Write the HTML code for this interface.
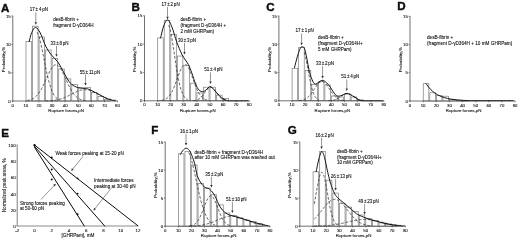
<!DOCTYPE html>
<html><head><meta charset="utf-8"><title>Figure</title>
<style>html,body{margin:0;padding:0;background:#fff}svg{display:block}text{stroke:#111;stroke-width:0.1px}</style>
</head><body>
<svg width="520" height="240" viewBox="0 0 520 240" style="will-change:transform" font-family='"Liberation Sans", sans-serif' stroke-linecap="butt">
<rect width="520" height="240" fill="#fff"/>
<g stroke="none">
<text x="1.00" y="11.50" font-size="11.6" text-anchor="start" font-weight="bold" fill="#0a0a0a" style="stroke-width:0.4px">A</text>
<rect x="25.99" y="41.50" width="5.54" height="59.50" fill="#fff" stroke="#7c7c7c" stroke-width="0.7"/>
<rect x="32.53" y="26.20" width="5.54" height="74.80" fill="#fff" stroke="#7c7c7c" stroke-width="0.7"/>
<rect x="39.08" y="36.97" width="5.54" height="64.03" fill="#fff" stroke="#7c7c7c" stroke-width="0.7"/>
<rect x="45.62" y="50.00" width="5.54" height="51.00" fill="#fff" stroke="#7c7c7c" stroke-width="0.7"/>
<rect x="52.16" y="58.50" width="5.54" height="42.50" fill="#fff" stroke="#7c7c7c" stroke-width="0.7"/>
<rect x="58.71" y="68.98" width="5.54" height="32.02" fill="#fff" stroke="#7c7c7c" stroke-width="0.7"/>
<rect x="65.25" y="78.90" width="5.54" height="22.10" fill="#fff" stroke="#7c7c7c" stroke-width="0.7"/>
<rect x="71.79" y="84.57" width="5.54" height="16.43" fill="#fff" stroke="#7c7c7c" stroke-width="0.7"/>
<rect x="78.34" y="87.97" width="5.54" height="13.03" fill="#fff" stroke="#7c7c7c" stroke-width="0.7"/>
<rect x="84.88" y="87.40" width="5.54" height="13.60" fill="#fff" stroke="#7c7c7c" stroke-width="0.7"/>
<rect x="91.42" y="92.50" width="5.54" height="8.50" fill="#fff" stroke="#7c7c7c" stroke-width="0.7"/>
<rect x="97.97" y="96.47" width="5.54" height="4.53" fill="#fff" stroke="#7c7c7c" stroke-width="0.7"/>
<rect x="104.51" y="99.30" width="5.54" height="1.70" fill="#fff" stroke="#7c7c7c" stroke-width="0.7"/>
<polyline points="37.01,32.17 37.67,33.25 38.32,34.73 38.98,36.58 39.63,38.77 40.28,41.27 40.94,44.02 41.59,46.99 42.25,50.13 42.90,53.39 43.56,56.71 44.21,60.07 44.86,63.40 45.52,66.68 46.17,69.88 46.83,72.95 47.48,75.88 48.14,78.64 48.79,81.22 49.45,83.62 50.10,85.82 50.75,87.83 51.41,89.64 52.06,91.26 52.72,92.71 53.37,93.98 54.03,95.10 54.68,96.07 55.33,96.91 55.99,97.62 56.64,98.23 57.30,98.74 57.95,99.17 58.61,99.53 59.26,99.82 59.92,100.07" fill="none" stroke="#222" stroke-width="0.7" stroke-dasharray="2.8 1.7"/>
<polyline points="27.20,100.51 27.85,100.40 28.51,100.28 29.16,100.13 29.81,99.96 30.47,99.77 31.12,99.53 31.78,99.27 32.43,98.96 33.09,98.62 33.74,98.22 34.39,97.78 35.05,97.27 35.70,96.71 36.36,96.09 37.01,95.40 37.67,94.65 38.32,93.82 38.98,92.93 39.63,91.96 40.28,90.92 40.94,89.81 41.59,88.63 42.25,87.39 42.90,86.09 43.56,84.74 44.21,83.35 44.86,81.92 45.52,80.47 46.17,79.00 46.83,77.54 47.48,76.09 48.14,74.66 48.79,73.28 49.45,71.96 50.10,70.71 50.75,69.54 51.41,68.47 52.06,67.52 52.72,66.69 53.37,66.00 54.03,65.45 54.68,65.05 55.33,64.81 55.99,64.73 56.64,64.81 57.30,65.05 57.95,65.45 58.61,66.00 59.26,66.69 59.92,67.52 60.57,68.47 61.22,69.54 61.88,70.71 62.53,71.96 63.19,73.28 63.84,74.66 64.50,76.09 65.15,77.54 65.80,79.00 66.46,80.47 67.11,81.92 67.77,83.35 68.42,84.74 69.08,86.09 69.73,87.39 70.39,88.63 71.04,89.81 71.69,90.92 72.35,91.96 73.00,92.93 73.66,93.82 74.31,94.65 74.97,95.40 75.62,96.09 76.27,96.71 76.93,97.27 77.58,97.78 78.24,98.22 78.89,98.62 79.55,98.96 80.20,99.27 80.86,99.53 81.51,99.77 82.16,99.96 82.82,100.13 83.47,100.28 84.13,100.40 84.78,100.51 85.44,100.60" fill="none" stroke="#222" stroke-width="0.7" stroke-dasharray="2.8 1.7"/>
<polyline points="45.52,100.87 46.17,100.85 46.83,100.83 47.48,100.80 48.14,100.78 48.79,100.74 49.45,100.70 50.10,100.66 50.75,100.61 51.41,100.56 52.06,100.50 52.72,100.44 53.37,100.36 54.03,100.28 54.68,100.20 55.33,100.10 55.99,99.99 56.64,99.88 57.30,99.75 57.95,99.61 58.61,99.47 59.26,99.31 59.92,99.14 60.57,98.95 61.22,98.76 61.88,98.55 62.53,98.33 63.19,98.09 63.84,97.85 64.50,97.59 65.15,97.32 65.80,97.04 66.46,96.75 67.11,96.44 67.77,96.13 68.42,95.81 69.08,95.48 69.73,95.15 70.39,94.81 71.04,94.47 71.69,94.13 72.35,93.78 73.00,93.44 73.66,93.10 74.31,92.77 74.97,92.45 75.62,92.13 76.27,91.82 76.93,91.53 77.58,91.26 78.24,91.00 78.89,90.76 79.55,90.54 80.20,90.34 80.86,90.17 81.51,90.02 82.16,89.89 82.82,89.79 83.47,89.72 84.13,89.68 84.78,89.67 85.44,89.68 86.09,89.72 86.74,89.79 87.40,89.89 88.05,90.02 88.71,90.17 89.36,90.34 90.02,90.54 90.67,90.76 91.33,91.00 91.98,91.26 92.63,91.53 93.29,91.82 93.94,92.13 94.60,92.45 95.25,92.77 95.91,93.10 96.56,93.44 97.21,93.78 97.87,94.13 98.52,94.47 99.18,94.81 99.83,95.15 100.49,95.48 101.14,95.81 101.80,96.13 102.45,96.44 103.10,96.75 103.76,97.04 104.41,97.32 105.07,97.59 105.72,97.85 106.38,98.09 107.03,98.33 107.68,98.55 108.34,98.76 108.99,98.95 109.65,99.14 110.30,99.31 110.96,99.47 111.61,99.61 112.27,99.75 112.92,99.88 113.57,99.99 114.23,100.10 114.88,100.20 115.54,100.28 116.19,100.36 116.85,100.44 117.50,100.50" fill="none" stroke="#222" stroke-width="0.7" stroke-dasharray="2.8 1.7"/>
<path d="M29.16,41.50 C29.60,39.99 30.71,34.79 31.78,32.43 C32.85,30.07 34.15,27.24 35.57,27.33 C36.99,27.43 38.60,29.88 40.28,33.00 C41.96,36.12 43.82,42.40 45.65,46.03 C47.48,49.67 49.29,52.22 51.28,54.82 C53.26,57.41 55.79,59.26 57.56,61.62 C59.33,63.98 60.61,66.76 61.88,68.98 C63.14,71.20 63.78,72.62 65.15,74.93 C66.52,77.25 68.23,80.84 70.12,82.87 C72.02,84.90 74.01,86.17 76.54,87.12 C79.07,88.06 83.34,88.20 85.30,88.53 C87.27,88.86 86.22,88.22 88.31,89.10 C90.41,89.98 94.71,92.20 97.87,93.80 C101.03,95.41 104.46,97.56 107.29,98.73 C110.13,99.90 113.62,100.48 114.88,100.83" fill="none" stroke="#0a0a0a" stroke-width="0.95" stroke-linejoin="round" stroke-linecap="round"/>
<line x1="12.80" y1="15.70" x2="12.80" y2="101.30" stroke="#333" stroke-width="0.7"/>
<line x1="12.50" y1="101.00" x2="117.80" y2="101.00" stroke="#333" stroke-width="0.7"/>
<line x1="11.30" y1="101.00" x2="12.80" y2="101.00" stroke="#333" stroke-width="0.55"/>
<text x="10.70" y="102.55" font-size="4.3" text-anchor="end" font-weight="normal" fill="#111">0</text>
<line x1="11.30" y1="72.67" x2="12.80" y2="72.67" stroke="#333" stroke-width="0.55"/>
<text x="10.70" y="74.22" font-size="4.3" text-anchor="end" font-weight="normal" fill="#111">5</text>
<line x1="11.30" y1="44.33" x2="12.80" y2="44.33" stroke="#333" stroke-width="0.55"/>
<text x="10.70" y="45.88" font-size="4.3" text-anchor="end" font-weight="normal" fill="#111">10</text>
<line x1="11.30" y1="16.00" x2="12.80" y2="16.00" stroke="#333" stroke-width="0.55"/>
<text x="10.70" y="17.55" font-size="4.3" text-anchor="end" font-weight="normal" fill="#111">15</text>
<line x1="12.80" y1="101.00" x2="12.80" y2="102.30" stroke="#333" stroke-width="0.55"/>
<text x="12.80" y="106.60" font-size="4.3" text-anchor="middle" font-weight="normal" fill="#111">0</text>
<line x1="25.89" y1="101.00" x2="25.89" y2="102.30" stroke="#333" stroke-width="0.55"/>
<text x="25.89" y="106.60" font-size="4.3" text-anchor="middle" font-weight="normal" fill="#111">10</text>
<line x1="38.98" y1="101.00" x2="38.98" y2="102.30" stroke="#333" stroke-width="0.55"/>
<text x="38.98" y="106.60" font-size="4.3" text-anchor="middle" font-weight="normal" fill="#111">20</text>
<line x1="52.06" y1="101.00" x2="52.06" y2="102.30" stroke="#333" stroke-width="0.55"/>
<text x="52.06" y="106.60" font-size="4.3" text-anchor="middle" font-weight="normal" fill="#111">30</text>
<line x1="65.15" y1="101.00" x2="65.15" y2="102.30" stroke="#333" stroke-width="0.55"/>
<text x="65.15" y="106.60" font-size="4.3" text-anchor="middle" font-weight="normal" fill="#111">40</text>
<line x1="78.24" y1="101.00" x2="78.24" y2="102.30" stroke="#333" stroke-width="0.55"/>
<text x="78.24" y="106.60" font-size="4.3" text-anchor="middle" font-weight="normal" fill="#111">50</text>
<line x1="91.33" y1="101.00" x2="91.33" y2="102.30" stroke="#333" stroke-width="0.55"/>
<text x="91.33" y="106.60" font-size="4.3" text-anchor="middle" font-weight="normal" fill="#111">60</text>
<line x1="104.41" y1="101.00" x2="104.41" y2="102.30" stroke="#333" stroke-width="0.55"/>
<text x="104.41" y="106.60" font-size="4.3" text-anchor="middle" font-weight="normal" fill="#111">70</text>
<line x1="117.50" y1="101.00" x2="117.50" y2="102.30" stroke="#333" stroke-width="0.55"/>
<text x="117.50" y="106.60" font-size="4.3" text-anchor="middle" font-weight="normal" fill="#111">80</text>
<text x="66.15" y="112.10" font-size="4.4" text-anchor="middle" font-weight="normal" fill="#111">Rupture forces,pN</text>
<text x="4.50" y="59.50" font-size="4.4" text-anchor="middle" font-weight="normal" fill="#111" transform="rotate(-90 4.50 59.50)">Probability,%</text>
<text x="38.90" y="11.00" font-size="4.55" text-anchor="middle" font-weight="normal" fill="#111" word-spacing="-0.5">17 ± 4 pN</text>
<line x1="35.80" y1="12.30" x2="35.80" y2="22.30" stroke="#2a2a2a" stroke-width="0.5"/>
<polygon points="35.80,24.80 34.60,22.30 37.00,22.30" fill="#2a2a2a"/>
<text x="59.50" y="45.00" font-size="4.55" text-anchor="middle" font-weight="normal" fill="#111" word-spacing="-0.5">33 ± 8 pN</text>
<line x1="56.50" y1="46.00" x2="56.50" y2="54.20" stroke="#2a2a2a" stroke-width="0.5"/>
<polygon points="56.50,56.70 55.30,54.20 57.70,54.20" fill="#2a2a2a"/>
<text x="90.00" y="73.70" font-size="4.55" text-anchor="middle" font-weight="normal" fill="#111" word-spacing="-0.5">55 ± 11 pN</text>
<line x1="85.50" y1="74.50" x2="85.50" y2="83.00" stroke="#2a2a2a" stroke-width="0.5"/>
<polygon points="85.50,85.50 84.30,83.00 86.70,83.00" fill="#2a2a2a"/>
<text x="53.20" y="20.90" font-size="4.55" text-anchor="start" font-weight="normal" fill="#111">desB-fibrin +</text>
<text x="53.20" y="26.60" font-size="4.55" text-anchor="start" font-weight="normal" fill="#111">fragment D-γD364H</text>
<text x="131.40" y="11.00" font-size="11.6" text-anchor="start" font-weight="bold" fill="#0a0a0a" style="stroke-width:0.4px">B</text>
<rect x="157.69" y="37.90" width="5.54" height="62.90" fill="#fff" stroke="#7c7c7c" stroke-width="0.7"/>
<rect x="164.23" y="20.33" width="5.54" height="80.47" fill="#fff" stroke="#7c7c7c" stroke-width="0.7"/>
<rect x="170.78" y="34.50" width="5.54" height="66.30" fill="#fff" stroke="#7c7c7c" stroke-width="0.7"/>
<rect x="177.32" y="56.03" width="5.54" height="44.77" fill="#fff" stroke="#7c7c7c" stroke-width="0.7"/>
<rect x="183.86" y="65.67" width="5.54" height="35.13" fill="#fff" stroke="#7c7c7c" stroke-width="0.7"/>
<rect x="190.41" y="83.23" width="5.54" height="17.57" fill="#fff" stroke="#7c7c7c" stroke-width="0.7"/>
<rect x="196.95" y="92.87" width="5.54" height="7.93" fill="#fff" stroke="#7c7c7c" stroke-width="0.7"/>
<rect x="203.49" y="87.20" width="5.54" height="13.60" fill="#fff" stroke="#7c7c7c" stroke-width="0.7"/>
<rect x="210.04" y="87.20" width="5.54" height="13.60" fill="#fff" stroke="#7c7c7c" stroke-width="0.7"/>
<rect x="216.58" y="95.13" width="5.54" height="5.67" fill="#fff" stroke="#7c7c7c" stroke-width="0.7"/>
<rect x="223.12" y="98.53" width="5.54" height="2.27" fill="#fff" stroke="#7c7c7c" stroke-width="0.7"/>
<polyline points="168.71,25.09 169.37,26.76 170.02,29.03 170.68,31.85 171.33,35.14 171.98,38.83 172.64,42.83 173.29,47.06 173.95,51.41 174.60,55.82 175.26,60.20 175.91,64.47 176.56,68.58 177.22,72.48 177.87,76.13 178.53,79.50 179.18,82.57 179.84,85.34 180.49,87.80 181.14,89.97 181.80,91.86 182.45,93.48 183.11,94.86 183.76,96.02 184.42,96.99 185.07,97.79 185.73,98.45 186.38,98.97 187.03,99.40 187.69,99.73" fill="none" stroke="#222" stroke-width="0.7" stroke-dasharray="2.8 1.7"/>
<polyline points="161.51,100.40 162.17,100.28 162.82,100.14 163.48,99.97 164.13,99.76 164.79,99.51 165.44,99.21 166.09,98.84 166.75,98.42 167.40,97.91 168.06,97.33 168.71,96.66 169.37,95.89 170.02,95.02 170.68,94.04 171.33,92.96 171.98,91.76 172.64,90.45 173.29,89.03 173.95,87.50 174.60,85.89 175.26,84.20 175.91,82.44 176.56,80.63 177.22,78.80 177.87,76.97 178.53,75.17 179.18,73.42 179.84,71.76 180.49,70.21 181.14,68.79 181.80,67.55 182.45,66.49 183.11,65.65 183.76,65.03 184.42,64.66 185.07,64.53 185.73,64.66 186.38,65.03 187.03,65.65 187.69,66.49 188.34,67.55 189.00,68.79 189.65,70.21 190.31,71.76 190.96,73.42 191.62,75.17 192.27,76.97 192.92,78.80 193.58,80.63 194.23,82.44 194.89,84.20 195.54,85.89 196.20,87.50 196.85,89.03 197.50,90.45 198.16,91.76 198.81,92.96 199.47,94.04 200.12,95.02 200.78,95.89 201.43,96.66 202.08,97.33 202.74,97.91 203.39,98.42 204.05,98.84 204.70,99.21 205.36,99.51 206.01,99.76 206.67,99.97 207.32,100.14 207.97,100.28 208.63,100.40" fill="none" stroke="#222" stroke-width="0.7" stroke-dasharray="2.8 1.7"/>
<polyline points="193.32,100.65 193.97,100.59 194.63,100.51 195.28,100.40 195.93,100.27 196.59,100.09 197.24,99.87 197.90,99.60 198.55,99.27 199.21,98.87 199.86,98.40 200.51,97.86 201.17,97.23 201.82,96.53 202.48,95.76 203.13,94.92 203.79,94.04 204.44,93.11 205.10,92.18 205.75,91.25 206.40,90.36 207.06,89.53 207.71,88.80 208.37,88.18 209.02,87.70 209.68,87.37 210.33,87.21 210.98,87.23 211.64,87.42 212.29,87.78 212.95,88.29 213.60,88.94 214.26,89.69 214.91,90.53 215.57,91.43 216.22,92.36 216.87,93.30 217.53,94.22 218.18,95.10 218.84,95.92 219.49,96.68 220.15,97.37 220.80,97.97 221.45,98.50 222.11,98.96 222.76,99.34 223.42,99.66 224.07,99.92 224.73,100.13 225.38,100.30 226.04,100.43 226.69,100.53 227.34,100.60" fill="none" stroke="#222" stroke-width="0.7" stroke-dasharray="2.8 1.7"/>
<path d="M160.60,37.90 C161.14,35.82 162.69,28.46 163.87,25.43 C165.05,22.41 166.31,19.48 167.66,19.77 C169.02,20.05 170.48,23.45 171.98,27.13 C173.49,30.82 174.99,37.24 176.70,41.87 C178.40,46.49 180.25,51.12 182.19,54.90 C184.13,58.68 186.77,61.61 188.34,64.53 C189.91,67.46 190.42,69.26 191.62,72.47 C192.81,75.68 194.34,80.92 195.54,83.80 C196.74,86.68 197.61,88.43 198.81,89.75 C200.01,91.07 201.54,91.69 202.74,91.73 C203.94,91.78 204.72,90.88 206.01,90.03 C207.30,89.18 208.65,86.16 210.46,86.63 C212.27,87.11 215.02,91.01 216.87,92.87 C218.73,94.73 219.97,96.55 221.59,97.80 C223.20,99.04 225.01,99.85 226.56,100.35 C228.11,100.85 227.32,100.72 230.88,100.80 C234.43,100.88 245.06,100.80 247.89,100.80" fill="none" stroke="#0a0a0a" stroke-width="0.95" stroke-linejoin="round" stroke-linecap="round"/>
<line x1="144.50" y1="15.50" x2="144.50" y2="101.10" stroke="#333" stroke-width="0.7"/>
<line x1="144.20" y1="100.80" x2="249.50" y2="100.80" stroke="#333" stroke-width="0.7"/>
<line x1="143.00" y1="100.80" x2="144.50" y2="100.80" stroke="#333" stroke-width="0.55"/>
<text x="142.40" y="102.35" font-size="4.3" text-anchor="end" font-weight="normal" fill="#111">0</text>
<line x1="143.00" y1="72.47" x2="144.50" y2="72.47" stroke="#333" stroke-width="0.55"/>
<text x="142.40" y="74.02" font-size="4.3" text-anchor="end" font-weight="normal" fill="#111">5</text>
<line x1="143.00" y1="44.13" x2="144.50" y2="44.13" stroke="#333" stroke-width="0.55"/>
<text x="142.40" y="45.68" font-size="4.3" text-anchor="end" font-weight="normal" fill="#111">10</text>
<line x1="143.00" y1="15.80" x2="144.50" y2="15.80" stroke="#333" stroke-width="0.55"/>
<text x="142.40" y="17.35" font-size="4.3" text-anchor="end" font-weight="normal" fill="#111">15</text>
<line x1="144.50" y1="100.80" x2="144.50" y2="102.10" stroke="#333" stroke-width="0.55"/>
<text x="144.50" y="106.40" font-size="4.3" text-anchor="middle" font-weight="normal" fill="#111">0</text>
<line x1="157.59" y1="100.80" x2="157.59" y2="102.10" stroke="#333" stroke-width="0.55"/>
<text x="157.59" y="106.40" font-size="4.3" text-anchor="middle" font-weight="normal" fill="#111">10</text>
<line x1="170.68" y1="100.80" x2="170.68" y2="102.10" stroke="#333" stroke-width="0.55"/>
<text x="170.68" y="106.40" font-size="4.3" text-anchor="middle" font-weight="normal" fill="#111">20</text>
<line x1="183.76" y1="100.80" x2="183.76" y2="102.10" stroke="#333" stroke-width="0.55"/>
<text x="183.76" y="106.40" font-size="4.3" text-anchor="middle" font-weight="normal" fill="#111">30</text>
<line x1="196.85" y1="100.80" x2="196.85" y2="102.10" stroke="#333" stroke-width="0.55"/>
<text x="196.85" y="106.40" font-size="4.3" text-anchor="middle" font-weight="normal" fill="#111">40</text>
<line x1="209.94" y1="100.80" x2="209.94" y2="102.10" stroke="#333" stroke-width="0.55"/>
<text x="209.94" y="106.40" font-size="4.3" text-anchor="middle" font-weight="normal" fill="#111">50</text>
<line x1="223.02" y1="100.80" x2="223.02" y2="102.10" stroke="#333" stroke-width="0.55"/>
<text x="223.02" y="106.40" font-size="4.3" text-anchor="middle" font-weight="normal" fill="#111">60</text>
<line x1="236.11" y1="100.80" x2="236.11" y2="102.10" stroke="#333" stroke-width="0.55"/>
<text x="236.11" y="106.40" font-size="4.3" text-anchor="middle" font-weight="normal" fill="#111">70</text>
<line x1="249.20" y1="100.80" x2="249.20" y2="102.10" stroke="#333" stroke-width="0.55"/>
<text x="249.20" y="106.40" font-size="4.3" text-anchor="middle" font-weight="normal" fill="#111">80</text>
<text x="197.85" y="111.90" font-size="4.4" text-anchor="middle" font-weight="normal" fill="#111">Rupture forces,pN</text>
<text x="136.20" y="59.30" font-size="4.4" text-anchor="middle" font-weight="normal" fill="#111" transform="rotate(-90 136.20 59.30)">Probability,%</text>
<text x="170.60" y="6.00" font-size="4.55" text-anchor="middle" font-weight="normal" fill="#111" word-spacing="-0.5">17 ± 2 pN</text>
<line x1="167.50" y1="7.00" x2="167.50" y2="16.70" stroke="#2a2a2a" stroke-width="0.5"/>
<polygon points="167.50,19.20 166.30,16.70 168.70,16.70" fill="#2a2a2a"/>
<text x="187.00" y="41.60" font-size="4.55" text-anchor="middle" font-weight="normal" fill="#111" word-spacing="-0.5">30 ± 3 pN</text>
<line x1="184.50" y1="42.80" x2="184.50" y2="52.10" stroke="#2a2a2a" stroke-width="0.5"/>
<polygon points="184.50,54.60 183.30,52.10 185.70,52.10" fill="#2a2a2a"/>
<text x="213.40" y="71.20" font-size="4.55" text-anchor="middle" font-weight="normal" fill="#111" word-spacing="-0.5">51 ± 4 pN</text>
<line x1="210.50" y1="72.30" x2="210.50" y2="81.50" stroke="#2a2a2a" stroke-width="0.5"/>
<polygon points="210.50,84.00 209.30,81.50 211.70,81.50" fill="#2a2a2a"/>
<text x="180.40" y="21.10" font-size="4.55" text-anchor="start" font-weight="normal" fill="#111">desB-fibrin +</text>
<text x="180.40" y="26.80" font-size="4.55" text-anchor="start" font-weight="normal" fill="#111">(fragment D-γD364H +</text>
<text x="180.40" y="32.50" font-size="4.55" text-anchor="start" font-weight="normal" fill="#111">2 mM GHRPam)</text>
<text x="266.30" y="10.50" font-size="11.6" text-anchor="start" font-weight="bold" fill="#0a0a0a" style="stroke-width:0.4px">C</text>
<rect x="292.11" y="68.29" width="5.56" height="32.51" fill="#fff" stroke="#7c7c7c" stroke-width="0.7"/>
<rect x="298.67" y="47.38" width="5.56" height="53.42" fill="#fff" stroke="#7c7c7c" stroke-width="0.7"/>
<rect x="305.23" y="70.55" width="5.56" height="30.25" fill="#fff" stroke="#7c7c7c" stroke-width="0.7"/>
<rect x="311.78" y="84.41" width="5.56" height="16.39" fill="#fff" stroke="#7c7c7c" stroke-width="0.7"/>
<rect x="318.34" y="81.58" width="5.56" height="19.22" fill="#fff" stroke="#7c7c7c" stroke-width="0.7"/>
<rect x="324.89" y="84.97" width="5.56" height="15.83" fill="#fff" stroke="#7c7c7c" stroke-width="0.7"/>
<rect x="331.45" y="95.99" width="5.56" height="4.81" fill="#fff" stroke="#7c7c7c" stroke-width="0.7"/>
<rect x="338.01" y="97.01" width="5.56" height="3.79" fill="#fff" stroke="#7c7c7c" stroke-width="0.7"/>
<rect x="344.56" y="94.02" width="5.56" height="6.78" fill="#fff" stroke="#7c7c7c" stroke-width="0.7"/>
<rect x="351.12" y="97.01" width="5.56" height="3.79" fill="#fff" stroke="#7c7c7c" stroke-width="0.7"/>
<rect x="357.68" y="99.95" width="5.56" height="0.85" fill="#fff" stroke="#7c7c7c" stroke-width="0.7"/>
<polyline points="304.47,52.44 305.12,54.94 305.78,57.86 306.44,61.11 307.09,64.59 307.75,68.19 308.40,71.80 309.06,75.35 309.71,78.75 310.37,81.94 311.03,84.87 311.68,87.52 312.34,89.88 312.99,91.93 313.65,93.68 314.30,95.17 314.96,96.40 315.62,97.40 316.27,98.21 316.93,98.86 317.58,99.36 318.24,99.74 318.89,100.04" fill="none" stroke="#222" stroke-width="0.7" stroke-dasharray="2.8 1.7"/>
<polyline points="299.09,100.59 299.75,100.52 300.40,100.45 301.06,100.35 301.72,100.23 302.37,100.09 303.03,99.92 303.68,99.71 304.34,99.47 304.99,99.18 305.65,98.84 306.31,98.46 306.96,98.01 307.62,97.51 308.27,96.95 308.93,96.32 309.58,95.63 310.24,94.88 310.89,94.07 311.55,93.20 312.21,92.28 312.86,91.33 313.52,90.34 314.17,89.34 314.83,88.34 315.48,87.35 316.14,86.39 316.80,85.47 317.45,84.61 318.11,83.84 318.76,83.16 319.42,82.58 320.07,82.13 320.73,81.81 321.38,81.62 322.04,81.58 322.70,81.68 323.35,81.92 324.01,82.30 324.66,82.80 325.32,83.42 325.97,84.14 326.63,84.95 327.29,85.83 327.94,86.77 328.60,87.74 329.25,88.74 329.91,89.74 330.56,90.74 331.22,91.71 331.87,92.65 332.53,93.55 333.19,94.40 333.84,95.19 334.50,95.91 335.15,96.58 335.81,97.18 336.46,97.72 337.12,98.20 337.78,98.62 338.43,98.98 339.09,99.30 339.74,99.57 340.40,99.80 341.05,99.99 341.71,100.15 342.36,100.28 343.02,100.39 343.68,100.48 344.33,100.55" fill="none" stroke="#222" stroke-width="0.7" stroke-dasharray="2.8 1.7"/>
<polyline points="328.60,100.72 329.25,100.69 329.91,100.65 330.56,100.60 331.22,100.53 331.87,100.45 332.53,100.35 333.19,100.22 333.84,100.07 334.50,99.89 335.15,99.67 335.81,99.42 336.46,99.14 337.12,98.81 337.78,98.45 338.43,98.06 339.09,97.63 339.74,97.19 340.40,96.72 341.05,96.25 341.71,95.78 342.36,95.32 343.02,94.89 343.68,94.49 344.33,94.15 344.99,93.86 345.64,93.65 346.30,93.51 346.95,93.45 347.61,93.48 348.27,93.58 348.92,93.77 349.58,94.03 350.23,94.35 350.89,94.72 351.54,95.14 352.20,95.59 352.85,96.06 353.51,96.53 354.17,97.00 354.82,97.46 355.48,97.89 356.13,98.30 356.79,98.67 357.44,99.01 358.10,99.31 358.76,99.58 359.41,99.81 360.07,100.00 360.72,100.16 361.38,100.30 362.03,100.41 362.69,100.50 363.34,100.57 364.00,100.63 364.66,100.67 365.31,100.71" fill="none" stroke="#222" stroke-width="0.7" stroke-dasharray="2.8 1.7"/>
<path d="M294.50,67.45 C295.01,65.56 296.56,59.34 297.52,56.14 C298.48,52.94 299.44,49.78 300.27,48.22 C301.10,46.67 301.78,46.72 302.50,46.81 C303.22,46.90 303.88,46.86 304.60,48.79 C305.32,50.72 306.09,54.82 306.83,58.40 C307.57,61.98 308.21,66.79 309.06,70.27 C309.91,73.76 310.87,77.01 311.94,79.32 C313.01,81.63 313.80,83.95 315.48,84.12 C317.17,84.29 320.20,80.57 322.04,80.33 C323.88,80.10 325.12,81.56 326.50,82.71 C327.88,83.86 329.06,85.54 330.30,87.23 C331.55,88.93 332.84,91.42 333.97,92.89 C335.11,94.36 335.81,95.63 337.12,96.05 C338.43,96.48 340.16,95.86 341.84,95.43 C343.52,95.00 345.18,93.24 347.22,93.45 C349.25,93.66 352.09,95.62 354.03,96.67 C355.98,97.73 357.42,99.11 358.89,99.78 C360.35,100.45 360.85,100.52 362.82,100.69 C364.79,100.86 367.41,100.78 370.69,100.80 C373.97,100.82 380.52,100.80 382.49,100.80" fill="none" stroke="#0a0a0a" stroke-width="0.95" stroke-linejoin="round" stroke-linecap="round"/>
<line x1="278.90" y1="15.70" x2="278.90" y2="101.10" stroke="#333" stroke-width="0.7"/>
<line x1="278.60" y1="100.80" x2="384.10" y2="100.80" stroke="#333" stroke-width="0.7"/>
<line x1="277.40" y1="100.80" x2="278.90" y2="100.80" stroke="#333" stroke-width="0.55"/>
<text x="276.80" y="102.35" font-size="4.3" text-anchor="end" font-weight="normal" fill="#111">0</text>
<line x1="277.40" y1="72.53" x2="278.90" y2="72.53" stroke="#333" stroke-width="0.55"/>
<text x="276.80" y="74.08" font-size="4.3" text-anchor="end" font-weight="normal" fill="#111">5</text>
<line x1="277.40" y1="44.27" x2="278.90" y2="44.27" stroke="#333" stroke-width="0.55"/>
<text x="276.80" y="45.82" font-size="4.3" text-anchor="end" font-weight="normal" fill="#111">10</text>
<line x1="277.40" y1="16.00" x2="278.90" y2="16.00" stroke="#333" stroke-width="0.55"/>
<text x="276.80" y="17.55" font-size="4.3" text-anchor="end" font-weight="normal" fill="#111">15</text>
<line x1="278.90" y1="100.80" x2="278.90" y2="102.10" stroke="#333" stroke-width="0.55"/>
<text x="278.90" y="106.40" font-size="4.3" text-anchor="middle" font-weight="normal" fill="#111">0</text>
<line x1="292.01" y1="100.80" x2="292.01" y2="102.10" stroke="#333" stroke-width="0.55"/>
<text x="292.01" y="106.40" font-size="4.3" text-anchor="middle" font-weight="normal" fill="#111">10</text>
<line x1="305.12" y1="100.80" x2="305.12" y2="102.10" stroke="#333" stroke-width="0.55"/>
<text x="305.12" y="106.40" font-size="4.3" text-anchor="middle" font-weight="normal" fill="#111">20</text>
<line x1="318.24" y1="100.80" x2="318.24" y2="102.10" stroke="#333" stroke-width="0.55"/>
<text x="318.24" y="106.40" font-size="4.3" text-anchor="middle" font-weight="normal" fill="#111">30</text>
<line x1="331.35" y1="100.80" x2="331.35" y2="102.10" stroke="#333" stroke-width="0.55"/>
<text x="331.35" y="106.40" font-size="4.3" text-anchor="middle" font-weight="normal" fill="#111">40</text>
<line x1="344.46" y1="100.80" x2="344.46" y2="102.10" stroke="#333" stroke-width="0.55"/>
<text x="344.46" y="106.40" font-size="4.3" text-anchor="middle" font-weight="normal" fill="#111">50</text>
<line x1="357.57" y1="100.80" x2="357.57" y2="102.10" stroke="#333" stroke-width="0.55"/>
<text x="357.57" y="106.40" font-size="4.3" text-anchor="middle" font-weight="normal" fill="#111">60</text>
<line x1="370.69" y1="100.80" x2="370.69" y2="102.10" stroke="#333" stroke-width="0.55"/>
<text x="370.69" y="106.40" font-size="4.3" text-anchor="middle" font-weight="normal" fill="#111">70</text>
<line x1="383.80" y1="100.80" x2="383.80" y2="102.10" stroke="#333" stroke-width="0.55"/>
<text x="383.80" y="106.40" font-size="4.3" text-anchor="middle" font-weight="normal" fill="#111">80</text>
<text x="332.35" y="111.90" font-size="4.4" text-anchor="middle" font-weight="normal" fill="#111">Rupture forces,pN</text>
<text x="270.60" y="59.40" font-size="4.4" text-anchor="middle" font-weight="normal" fill="#111" transform="rotate(-90 270.60 59.40)">Probability,%</text>
<text x="304.70" y="32.20" font-size="4.55" text-anchor="middle" font-weight="normal" fill="#111" word-spacing="-0.5">17 ± 1 pN</text>
<line x1="301.60" y1="33.40" x2="301.60" y2="42.70" stroke="#2a2a2a" stroke-width="0.5"/>
<polygon points="301.60,45.20 300.40,42.70 302.80,42.70" fill="#2a2a2a"/>
<text x="325.00" y="65.00" font-size="4.55" text-anchor="middle" font-weight="normal" fill="#111" word-spacing="-0.5">33 ± 2 pN</text>
<line x1="322.60" y1="66.30" x2="322.60" y2="76.00" stroke="#2a2a2a" stroke-width="0.5"/>
<polygon points="322.60,78.50 321.40,76.00 323.80,76.00" fill="#2a2a2a"/>
<text x="350.30" y="78.20" font-size="4.55" text-anchor="middle" font-weight="normal" fill="#111" word-spacing="-0.5">51 ± 4 pN</text>
<line x1="346.80" y1="79.40" x2="346.80" y2="88.50" stroke="#2a2a2a" stroke-width="0.5"/>
<polygon points="346.80,91.00 345.60,88.50 348.00,88.50" fill="#2a2a2a"/>
<text x="318.00" y="39.20" font-size="4.55" text-anchor="start" font-weight="normal" fill="#111">desB-fibrin +</text>
<text x="318.00" y="44.90" font-size="4.55" text-anchor="start" font-weight="normal" fill="#111">(fragment D-γD364H+</text>
<text x="318.00" y="50.60" font-size="4.55" text-anchor="start" font-weight="normal" fill="#111">5 mM GHRPam)</text>
<text x="397.20" y="10.00" font-size="11.6" text-anchor="start" font-weight="bold" fill="#0a0a0a" style="stroke-width:0.4px">D</text>
<rect x="423.24" y="83.72" width="5.57" height="17.28" fill="#fff" stroke="#7c7c7c" stroke-width="0.7"/>
<rect x="429.81" y="92.81" width="5.57" height="8.19" fill="#fff" stroke="#7c7c7c" stroke-width="0.7"/>
<rect x="436.38" y="95.47" width="5.57" height="5.53" fill="#fff" stroke="#7c7c7c" stroke-width="0.7"/>
<rect x="442.94" y="96.20" width="5.57" height="4.80" fill="#fff" stroke="#7c7c7c" stroke-width="0.7"/>
<rect x="449.51" y="99.31" width="5.57" height="1.69" fill="#fff" stroke="#7c7c7c" stroke-width="0.7"/>
<rect x="456.08" y="100.15" width="5.57" height="0.85" fill="#fff" stroke="#7c7c7c" stroke-width="0.7"/>
<rect x="462.65" y="100.44" width="5.57" height="0.56" fill="#fff" stroke="#7c7c7c" stroke-width="0.7"/>
<path d="M426.16,83.72 C426.42,84.10 426.93,84.98 427.74,86.00 C428.55,87.01 429.93,88.71 431.02,89.82 C432.11,90.93 433.21,91.84 434.30,92.67 C435.40,93.50 436.49,94.17 437.59,94.79 C438.68,95.41 439.78,95.91 440.87,96.37 C441.97,96.83 443.06,97.21 444.16,97.55 C445.25,97.90 446.35,98.18 447.44,98.43 C448.54,98.69 449.63,98.90 450.73,99.09 C451.82,99.28 452.92,99.43 454.01,99.57 C455.11,99.72 456.20,99.83 457.30,99.94 C458.39,100.04 459.48,100.13 460.58,100.21 C461.67,100.29 462.77,100.35 463.86,100.41 C464.96,100.47 466.05,100.52 467.15,100.56 C468.24,100.60 469.34,100.64 470.43,100.66 C471.53,100.68 472.62,100.66 473.72,100.66 C474.81,100.66 475.91,100.66 477.00,100.66 C478.10,100.66 479.19,100.66 480.29,100.66 C481.38,100.66 482.48,100.66 483.57,100.66 C484.66,100.66 485.76,100.66 486.85,100.66 C487.95,100.66 489.04,100.66 490.14,100.66 C491.23,100.66 492.33,100.66 493.42,100.66 C494.52,100.66 495.61,100.66 496.71,100.66 C497.80,100.66 498.90,100.66 499.99,100.66 C501.09,100.66 502.18,100.66 503.28,100.66 C504.37,100.66 505.47,100.66 506.56,100.66 C507.66,100.66 508.75,100.66 509.85,100.66 C510.94,100.66 512.58,100.66 513.13,100.66" fill="none" stroke="#0a0a0a" stroke-width="0.95" stroke-linejoin="round" stroke-linecap="round"/>
<line x1="410.00" y1="16.00" x2="410.00" y2="101.30" stroke="#333" stroke-width="0.7"/>
<line x1="409.70" y1="101.00" x2="515.40" y2="101.00" stroke="#333" stroke-width="0.7"/>
<line x1="408.50" y1="101.00" x2="410.00" y2="101.00" stroke="#333" stroke-width="0.55"/>
<text x="407.90" y="102.55" font-size="4.3" text-anchor="end" font-weight="normal" fill="#111">0</text>
<line x1="408.50" y1="72.77" x2="410.00" y2="72.77" stroke="#333" stroke-width="0.55"/>
<text x="407.90" y="74.32" font-size="4.3" text-anchor="end" font-weight="normal" fill="#111">5</text>
<line x1="408.50" y1="44.53" x2="410.00" y2="44.53" stroke="#333" stroke-width="0.55"/>
<text x="407.90" y="46.08" font-size="4.3" text-anchor="end" font-weight="normal" fill="#111">10</text>
<line x1="408.50" y1="16.30" x2="410.00" y2="16.30" stroke="#333" stroke-width="0.55"/>
<text x="407.90" y="17.85" font-size="4.3" text-anchor="end" font-weight="normal" fill="#111">15</text>
<line x1="410.00" y1="101.00" x2="410.00" y2="102.30" stroke="#333" stroke-width="0.55"/>
<text x="410.00" y="106.60" font-size="4.3" text-anchor="middle" font-weight="normal" fill="#111">0</text>
<line x1="423.14" y1="101.00" x2="423.14" y2="102.30" stroke="#333" stroke-width="0.55"/>
<text x="423.14" y="106.60" font-size="4.3" text-anchor="middle" font-weight="normal" fill="#111">10</text>
<line x1="436.27" y1="101.00" x2="436.27" y2="102.30" stroke="#333" stroke-width="0.55"/>
<text x="436.27" y="106.60" font-size="4.3" text-anchor="middle" font-weight="normal" fill="#111">20</text>
<line x1="449.41" y1="101.00" x2="449.41" y2="102.30" stroke="#333" stroke-width="0.55"/>
<text x="449.41" y="106.60" font-size="4.3" text-anchor="middle" font-weight="normal" fill="#111">30</text>
<line x1="462.55" y1="101.00" x2="462.55" y2="102.30" stroke="#333" stroke-width="0.55"/>
<text x="462.55" y="106.60" font-size="4.3" text-anchor="middle" font-weight="normal" fill="#111">40</text>
<line x1="475.69" y1="101.00" x2="475.69" y2="102.30" stroke="#333" stroke-width="0.55"/>
<text x="475.69" y="106.60" font-size="4.3" text-anchor="middle" font-weight="normal" fill="#111">50</text>
<line x1="488.83" y1="101.00" x2="488.83" y2="102.30" stroke="#333" stroke-width="0.55"/>
<text x="488.83" y="106.60" font-size="4.3" text-anchor="middle" font-weight="normal" fill="#111">60</text>
<line x1="501.96" y1="101.00" x2="501.96" y2="102.30" stroke="#333" stroke-width="0.55"/>
<text x="501.96" y="106.60" font-size="4.3" text-anchor="middle" font-weight="normal" fill="#111">70</text>
<line x1="515.10" y1="101.00" x2="515.10" y2="102.30" stroke="#333" stroke-width="0.55"/>
<text x="515.10" y="106.60" font-size="4.3" text-anchor="middle" font-weight="normal" fill="#111">80</text>
<text x="463.55" y="112.10" font-size="4.4" text-anchor="middle" font-weight="normal" fill="#111">Rupture forces,pN</text>
<text x="401.70" y="59.65" font-size="4.4" text-anchor="middle" font-weight="normal" fill="#111" transform="rotate(-90 401.70 59.65)">Probability,%</text>
<text x="427.00" y="39.20" font-size="4.68" text-anchor="start" font-weight="normal" fill="#111">desB-fibrin +</text>
<text x="427.00" y="44.70" font-size="4.68" text-anchor="start" font-weight="normal" fill="#111">(fragment D-γD364H + 10 mM GHRPam)</text>
<text x="151.20" y="134.00" font-size="11.6" text-anchor="start" font-weight="bold" fill="#0a0a0a" style="stroke-width:0.4px">F</text>
<rect x="178.40" y="153.79" width="5.55" height="72.41" fill="#fff" stroke="#7c7c7c" stroke-width="0.7"/>
<rect x="184.95" y="151.54" width="5.55" height="74.66" fill="#fff" stroke="#7c7c7c" stroke-width="0.7"/>
<rect x="191.50" y="165.01" width="5.55" height="61.19" fill="#fff" stroke="#7c7c7c" stroke-width="0.7"/>
<rect x="198.05" y="183.54" width="5.55" height="42.66" fill="#fff" stroke="#7c7c7c" stroke-width="0.7"/>
<rect x="204.60" y="188.03" width="5.55" height="38.17" fill="#fff" stroke="#7c7c7c" stroke-width="0.7"/>
<rect x="211.15" y="194.77" width="5.55" height="31.43" fill="#fff" stroke="#7c7c7c" stroke-width="0.7"/>
<rect x="217.70" y="204.87" width="5.55" height="21.33" fill="#fff" stroke="#7c7c7c" stroke-width="0.7"/>
<rect x="224.25" y="213.01" width="5.55" height="13.19" fill="#fff" stroke="#7c7c7c" stroke-width="0.7"/>
<rect x="230.80" y="215.53" width="5.55" height="10.67" fill="#fff" stroke="#7c7c7c" stroke-width="0.7"/>
<rect x="237.35" y="218.00" width="5.55" height="8.20" fill="#fff" stroke="#7c7c7c" stroke-width="0.7"/>
<rect x="243.90" y="220.03" width="5.55" height="6.17" fill="#fff" stroke="#7c7c7c" stroke-width="0.7"/>
<rect x="250.45" y="221.71" width="5.55" height="4.49" fill="#fff" stroke="#7c7c7c" stroke-width="0.7"/>
<rect x="257.00" y="223.62" width="5.55" height="2.58" fill="#fff" stroke="#7c7c7c" stroke-width="0.7"/>
<polyline points="188.78,152.46 189.44,153.88 190.09,155.58 190.75,157.54 191.40,159.73 192.05,162.13 192.71,164.71 193.36,167.45 194.02,170.30 194.67,173.24 195.33,176.25 195.98,179.29 196.64,182.33 197.29,185.36 197.95,188.33 198.60,191.25 199.26,194.08 199.91,196.80 200.57,199.42 201.22,201.90 201.88,204.25 202.53,206.46 203.19,208.52 203.84,210.44 204.50,212.21 205.15,213.83 205.81,215.31 206.46,216.66 207.12,217.88 207.77,218.97 208.43,219.94 209.08,220.81 209.74,221.58 210.39,222.25 211.05,222.85 211.70,223.36 212.36,223.81 213.01,224.19 213.67,224.52 214.32,224.80 214.98,225.04 215.63,225.25" fill="none" stroke="#222" stroke-width="0.7" stroke-dasharray="2.8 1.7"/>
<polyline points="189.96,225.86 190.61,225.76 191.27,225.62 191.92,225.44 192.58,225.23 193.23,224.96 193.89,224.63 194.54,224.24 195.20,223.76 195.85,223.20 196.51,222.54 197.16,221.78 197.82,220.90 198.47,219.91 199.13,218.80 199.78,217.57 200.44,216.22 201.09,214.76 201.75,213.21 202.40,211.58 203.06,209.89 203.71,208.16 204.37,206.43 205.02,204.72 205.68,203.08 206.33,201.53 206.99,200.10 207.64,198.84 208.30,197.77 208.95,196.93 209.61,196.32 210.26,195.97 210.92,195.89 211.57,196.08 212.23,196.53 212.88,197.24 213.54,198.18 214.19,199.32 214.85,200.65 215.50,202.13 216.16,203.73 216.81,205.40 217.47,207.12 218.12,208.85 218.78,210.57 219.43,212.24 220.09,213.84 220.74,215.36 221.40,216.77 222.05,218.07 222.71,219.26 223.36,220.32 224.02,221.27 224.67,222.10 225.33,222.82 225.98,223.44 226.64,223.96 227.29,224.40 227.95,224.77 228.60,225.07 229.26,225.32 229.91,225.52 230.57,225.68 231.22,225.80" fill="none" stroke="#222" stroke-width="0.7" stroke-dasharray="2.8 1.7"/>
<polyline points="188.78,226.09 189.44,226.07 190.09,226.05 190.75,226.03 191.40,226.01 192.05,225.98 192.71,225.95 193.36,225.92 194.02,225.89 194.67,225.85 195.33,225.80 195.98,225.76 196.64,225.70 197.29,225.65 197.95,225.58 198.60,225.51 199.26,225.44 199.91,225.35 200.57,225.27 201.22,225.17 201.88,225.06 202.53,224.95 203.19,224.83 203.84,224.70 204.50,224.57 205.15,224.42 205.81,224.27 206.46,224.10 207.12,223.93 207.77,223.74 208.43,223.55 209.08,223.35 209.74,223.14 210.39,222.92 211.05,222.69 211.70,222.46 212.36,222.21 213.01,221.96 213.67,221.70 214.32,221.44 214.98,221.17 215.63,220.90 216.29,220.63 216.94,220.35 217.60,220.07 218.25,219.79 218.91,219.52 219.56,219.24 220.22,218.97 220.88,218.70 221.53,218.44 222.19,218.19 222.84,217.95 223.50,217.71 224.15,217.49 224.81,217.28 225.46,217.09 226.11,216.91 226.77,216.74 227.42,216.59 228.08,216.46 228.73,216.35 229.39,216.26 230.04,216.19 230.70,216.14 231.35,216.11 232.01,216.10 232.66,216.11 233.32,216.14 233.97,216.19 234.63,216.26 235.28,216.35 235.94,216.46 236.59,216.59 237.25,216.74 237.90,216.91 238.56,217.09 239.21,217.28 239.87,217.49 240.52,217.71 241.18,217.95 241.83,218.19 242.49,218.44 243.14,218.70 243.80,218.97 244.45,219.24 245.11,219.52 245.76,219.79 246.42,220.07 247.07,220.35 247.73,220.63 248.38,220.90 249.04,221.17 249.69,221.44 250.35,221.70 251.00,221.96 251.66,222.21 252.31,222.46 252.97,222.69 253.62,222.92 254.28,223.14 254.94,223.35 255.59,223.55 256.25,223.74 256.90,223.93 257.56,224.10 258.21,224.27 258.87,224.42 259.52,224.57 260.18,224.70 260.83,224.83 261.49,224.95 262.14,225.06 262.79,225.17 263.45,225.27 264.11,225.35 264.76,225.44 265.41,225.51 266.07,225.58 266.73,225.65 267.38,225.70 268.03,225.76 268.69,225.80 269.35,225.85 270.00,225.89" fill="none" stroke="#222" stroke-width="0.7" stroke-dasharray="2.8 1.7"/>
<path d="M180.40,154.35 C180.81,153.69 181.95,151.45 182.88,150.42 C183.82,149.39 184.94,148.17 186.03,148.17 C187.12,148.17 188.43,149.11 189.44,150.42 C190.44,151.73 191.20,153.88 192.05,156.03 C192.91,158.19 193.67,160.06 194.54,163.33 C195.42,166.61 196.23,172.41 197.29,175.68 C198.36,178.95 199.65,181.01 200.96,182.98 C202.27,184.94 203.78,186.49 205.15,187.47 C206.53,188.45 207.88,187.94 209.22,188.87 C210.55,189.81 211.97,191.44 213.15,193.08 C214.32,194.72 215.37,196.82 216.29,198.69 C217.21,200.57 217.64,202.44 218.65,204.31 C219.65,206.18 220.85,208.27 222.32,209.92 C223.78,211.57 225.74,213.21 227.42,214.19 C229.11,215.17 230.33,215.19 232.40,215.82 C234.48,216.44 236.94,217.08 239.87,217.95 C242.80,218.82 246.81,220.10 249.96,221.04 C253.10,221.97 255.81,222.79 258.73,223.56 C261.66,224.34 266.05,225.34 267.51,225.69" fill="none" stroke="#0a0a0a" stroke-width="0.95" stroke-linejoin="round" stroke-linecap="round"/>
<line x1="165.20" y1="141.70" x2="165.20" y2="226.50" stroke="#333" stroke-width="0.7"/>
<line x1="164.90" y1="226.20" x2="270.30" y2="226.20" stroke="#333" stroke-width="0.7"/>
<line x1="163.70" y1="226.20" x2="165.20" y2="226.20" stroke="#333" stroke-width="0.55"/>
<text x="163.10" y="227.75" font-size="4.3" text-anchor="end" font-weight="normal" fill="#111">0</text>
<line x1="163.70" y1="198.13" x2="165.20" y2="198.13" stroke="#333" stroke-width="0.55"/>
<text x="163.10" y="199.68" font-size="4.3" text-anchor="end" font-weight="normal" fill="#111">5</text>
<line x1="163.70" y1="170.07" x2="165.20" y2="170.07" stroke="#333" stroke-width="0.55"/>
<text x="163.10" y="171.62" font-size="4.3" text-anchor="end" font-weight="normal" fill="#111">10</text>
<line x1="163.70" y1="142.00" x2="165.20" y2="142.00" stroke="#333" stroke-width="0.55"/>
<text x="163.10" y="143.55" font-size="4.3" text-anchor="end" font-weight="normal" fill="#111">15</text>
<line x1="165.20" y1="226.20" x2="165.20" y2="227.50" stroke="#333" stroke-width="0.55"/>
<text x="165.20" y="231.80" font-size="4.3" text-anchor="middle" font-weight="normal" fill="#111">0</text>
<line x1="178.30" y1="226.20" x2="178.30" y2="227.50" stroke="#333" stroke-width="0.55"/>
<text x="178.30" y="231.80" font-size="4.3" text-anchor="middle" font-weight="normal" fill="#111">10</text>
<line x1="191.40" y1="226.20" x2="191.40" y2="227.50" stroke="#333" stroke-width="0.55"/>
<text x="191.40" y="231.80" font-size="4.3" text-anchor="middle" font-weight="normal" fill="#111">20</text>
<line x1="204.50" y1="226.20" x2="204.50" y2="227.50" stroke="#333" stroke-width="0.55"/>
<text x="204.50" y="231.80" font-size="4.3" text-anchor="middle" font-weight="normal" fill="#111">30</text>
<line x1="217.60" y1="226.20" x2="217.60" y2="227.50" stroke="#333" stroke-width="0.55"/>
<text x="217.60" y="231.80" font-size="4.3" text-anchor="middle" font-weight="normal" fill="#111">40</text>
<line x1="230.70" y1="226.20" x2="230.70" y2="227.50" stroke="#333" stroke-width="0.55"/>
<text x="230.70" y="231.80" font-size="4.3" text-anchor="middle" font-weight="normal" fill="#111">50</text>
<line x1="243.80" y1="226.20" x2="243.80" y2="227.50" stroke="#333" stroke-width="0.55"/>
<text x="243.80" y="231.80" font-size="4.3" text-anchor="middle" font-weight="normal" fill="#111">60</text>
<line x1="256.90" y1="226.20" x2="256.90" y2="227.50" stroke="#333" stroke-width="0.55"/>
<text x="256.90" y="231.80" font-size="4.3" text-anchor="middle" font-weight="normal" fill="#111">70</text>
<line x1="270.00" y1="226.20" x2="270.00" y2="227.50" stroke="#333" stroke-width="0.55"/>
<text x="270.00" y="231.80" font-size="4.3" text-anchor="middle" font-weight="normal" fill="#111">80</text>
<text x="218.60" y="237.30" font-size="4.4" text-anchor="middle" font-weight="normal" fill="#111">Rupture forces,pN</text>
<text x="156.90" y="185.10" font-size="4.4" text-anchor="middle" font-weight="normal" fill="#111" transform="rotate(-90 156.90 185.10)">Probability,%</text>
<text x="189.00" y="132.60" font-size="4.55" text-anchor="middle" font-weight="normal" fill="#111" word-spacing="-0.5">16 ± 1 pN</text>
<line x1="186.00" y1="133.80" x2="186.00" y2="143.10" stroke="#2a2a2a" stroke-width="0.5"/>
<polygon points="186.00,145.60 184.80,143.10 187.20,143.10" fill="#2a2a2a"/>
<text x="214.30" y="175.60" font-size="4.55" text-anchor="middle" font-weight="normal" fill="#111" word-spacing="-0.5">35 ± 2 pN</text>
<line x1="211.40" y1="176.80" x2="211.40" y2="185.00" stroke="#2a2a2a" stroke-width="0.5"/>
<polygon points="211.40,187.50 210.20,185.00 212.60,185.00" fill="#2a2a2a"/>
<text x="236.30" y="200.60" font-size="4.55" text-anchor="middle" font-weight="normal" fill="#111" word-spacing="-0.5">51 ± 10 pN</text>
<line x1="232.40" y1="201.80" x2="232.40" y2="210.50" stroke="#2a2a2a" stroke-width="0.5"/>
<polygon points="232.40,213.00 231.20,210.50 233.60,210.50" fill="#2a2a2a"/>
<text x="194.40" y="153.60" font-size="4.65" text-anchor="start" font-weight="normal" fill="#111">desB-fibrin + fragment D-γD364H</text>
<text x="194.40" y="159.20" font-size="4.65" text-anchor="start" font-weight="normal" fill="#111">after 10 mM GHRPam was washed out</text>
<text x="287.70" y="134.00" font-size="11.6" text-anchor="start" font-weight="bold" fill="#0a0a0a" style="stroke-width:0.4px">G</text>
<rect x="313.09" y="171.75" width="5.59" height="54.45" fill="#fff" stroke="#7c7c7c" stroke-width="0.7"/>
<rect x="319.68" y="151.54" width="5.59" height="74.66" fill="#fff" stroke="#7c7c7c" stroke-width="0.7"/>
<rect x="326.28" y="180.17" width="5.59" height="46.03" fill="#fff" stroke="#7c7c7c" stroke-width="0.7"/>
<rect x="332.87" y="193.08" width="5.59" height="33.12" fill="#fff" stroke="#7c7c7c" stroke-width="0.7"/>
<rect x="339.46" y="203.19" width="5.59" height="23.01" fill="#fff" stroke="#7c7c7c" stroke-width="0.7"/>
<rect x="346.06" y="207.11" width="5.59" height="19.09" fill="#fff" stroke="#7c7c7c" stroke-width="0.7"/>
<rect x="352.65" y="211.61" width="5.59" height="14.59" fill="#fff" stroke="#7c7c7c" stroke-width="0.7"/>
<rect x="359.24" y="214.97" width="5.59" height="11.23" fill="#fff" stroke="#7c7c7c" stroke-width="0.7"/>
<rect x="365.84" y="218.34" width="5.59" height="7.86" fill="#fff" stroke="#7c7c7c" stroke-width="0.7"/>
<rect x="372.43" y="220.59" width="5.59" height="5.61" fill="#fff" stroke="#7c7c7c" stroke-width="0.7"/>
<rect x="379.03" y="222.83" width="5.59" height="3.37" fill="#fff" stroke="#7c7c7c" stroke-width="0.7"/>
<rect x="385.62" y="224.52" width="5.59" height="1.68" fill="#fff" stroke="#7c7c7c" stroke-width="0.7"/>
<rect x="392.21" y="225.36" width="5.59" height="0.84" fill="#fff" stroke="#7c7c7c" stroke-width="0.7"/>
<polyline points="314.31,203.82 314.97,200.26 315.62,196.55 316.28,192.76 316.94,188.99 317.60,185.35 318.26,181.95 318.92,178.92 319.58,176.36 320.24,174.37 320.90,173.02 321.56,172.37 322.22,172.44 322.88,173.24 323.54,174.72 324.20,176.83 324.86,179.49 325.52,182.61 326.18,186.06 326.83,189.73 327.49,193.52 328.15,197.30 328.81,200.99 329.47,204.50 330.13,207.78 330.79,210.77 331.45,213.45 332.11,215.80 332.77,217.84 333.43,219.56 334.09,221.00 334.75,222.19 335.41,223.14 336.07,223.90 336.73,224.49 337.38,224.95 338.04,225.30 338.70,225.56" fill="none" stroke="#222" stroke-width="0.7" stroke-dasharray="2.8 1.7"/>
<polyline points="314.31,219.08 314.97,218.45 315.62,217.79 316.28,217.10 316.94,216.38 317.60,215.64 318.26,214.86 318.92,214.07 319.58,213.25 320.24,212.42 320.90,211.57 321.56,210.72 322.22,209.86 322.88,209.00 323.54,208.14 324.20,207.30 324.86,206.47 325.52,205.66 326.18,204.88 326.83,204.13 327.49,203.41 328.15,202.74 328.81,202.12 329.47,201.54 330.13,201.02 330.79,200.57 331.45,200.17 332.11,199.85 332.77,199.59 333.43,199.40 334.09,199.29 334.75,199.26 335.41,199.29 336.07,199.40 336.73,199.59 337.38,199.85 338.04,200.17 338.70,200.57 339.36,201.02 340.02,201.54 340.68,202.12 341.34,202.74 342.00,203.41 342.66,204.13 343.32,204.88 343.98,205.66 344.64,206.47 345.30,207.30 345.96,208.14 346.62,209.00 347.28,209.86 347.93,210.72 348.59,211.57 349.25,212.42 349.91,213.25 350.57,214.07 351.23,214.86 351.89,215.64 352.55,216.38 353.21,217.10 353.87,217.79 354.53,218.45 355.19,219.08 355.85,219.68 356.51,220.24 357.17,220.77 357.83,221.26 358.48,221.72 359.14,222.15 359.80,222.55 360.46,222.92 361.12,223.26 361.78,223.57 362.44,223.86 363.10,224.12 363.76,224.36 364.42,224.57 365.08,224.76 365.74,224.94 366.40,225.09 367.06,225.23 367.72,225.36 368.38,225.47 369.03,225.56 369.69,225.65 370.35,225.73 371.01,225.79 371.67,225.85 372.33,225.90" fill="none" stroke="#222" stroke-width="0.7" stroke-dasharray="2.8 1.7"/>
<polyline points="314.31,226.11 314.97,226.09 315.62,226.08 316.28,226.07 316.94,226.05 317.60,226.04 318.26,226.02 318.92,226.00 319.58,225.98 320.24,225.96 320.90,225.93 321.56,225.90 322.22,225.87 322.88,225.84 323.54,225.81 324.20,225.77 324.86,225.73 325.52,225.69 326.18,225.64 326.83,225.59 327.49,225.54 328.15,225.48 328.81,225.42 329.47,225.36 330.13,225.29 330.79,225.22 331.45,225.14 332.11,225.06 332.77,224.97 333.43,224.89 334.09,224.79 334.75,224.69 335.41,224.59 336.07,224.48 336.73,224.37 337.38,224.26 338.04,224.14 338.70,224.01 339.36,223.88 340.02,223.75 340.68,223.62 341.34,223.48 342.00,223.34 342.66,223.19 343.32,223.04 343.98,222.89 344.64,222.74 345.30,222.58 345.96,222.43 346.62,222.27 347.28,222.11 347.93,221.96 348.59,221.80 349.25,221.65 349.91,221.49 350.57,221.34 351.23,221.19 351.89,221.04 352.55,220.90 353.21,220.76 353.87,220.63 354.53,220.50 355.19,220.37 355.85,220.26 356.51,220.14 357.17,220.04 357.83,219.94 358.48,219.86 359.14,219.78 359.80,219.70 360.46,219.64 361.12,219.59 361.78,219.54 362.44,219.51 363.10,219.48 363.76,219.47 364.42,219.46 365.08,219.47 365.74,219.48 366.40,219.51 367.06,219.54 367.72,219.59 368.38,219.64 369.03,219.70 369.69,219.78 370.35,219.86 371.01,219.94 371.67,220.04 372.33,220.14 372.99,220.26 373.65,220.37 374.31,220.50 374.97,220.63 375.63,220.76 376.29,220.90 376.95,221.04 377.61,221.19 378.27,221.34 378.93,221.49 379.58,221.65 380.24,221.80 380.90,221.96 381.56,222.11 382.22,222.27 382.88,222.43 383.54,222.58 384.20,222.74 384.86,222.89 385.52,223.04 386.18,223.19 386.84,223.34 387.50,223.48 388.16,223.62 388.82,223.75 389.48,223.88 390.13,224.01 390.79,224.14 391.45,224.26 392.11,224.37 392.77,224.48 393.43,224.59 394.09,224.69 394.75,224.79 395.41,224.89 396.07,224.97 396.73,225.06 397.39,225.14 398.05,225.22 398.71,225.29 399.37,225.36 400.03,225.42 400.68,225.48 401.34,225.54 402.00,225.59 402.66,225.64 403.32,225.69 403.98,225.73 404.64,225.77 405.30,225.81" fill="none" stroke="#222" stroke-width="0.7" stroke-dasharray="2.8 1.7"/>
<path d="M316.15,171.75 C316.61,169.60 317.98,162.21 318.92,158.84 C319.87,155.47 320.88,151.73 321.82,151.54 C322.77,151.36 323.69,154.63 324.59,157.72 C325.49,160.80 326.44,166.57 327.23,170.07 C328.02,173.57 328.68,176.19 329.34,178.71 C330.00,181.24 330.35,182.83 331.19,185.22 C332.02,187.62 333.30,191.02 334.35,193.08 C335.41,195.14 335.96,195.93 337.52,197.57 C339.08,199.21 341.63,201.13 343.71,202.90 C345.80,204.68 347.93,206.46 350.04,208.24 C352.15,210.01 354.75,212.35 356.37,213.57 C358.00,214.79 358.55,214.93 359.80,215.53 C361.06,216.14 362.18,216.56 363.89,217.22 C365.61,217.87 368.00,218.78 370.09,219.46 C372.18,220.15 374.31,220.74 376.42,221.32 C378.53,221.90 380.66,222.47 382.75,222.94 C384.84,223.42 386.86,223.80 388.95,224.18 C391.04,224.55 392.99,224.89 395.28,225.19 C397.56,225.49 401.43,225.84 402.66,225.98" fill="none" stroke="#0a0a0a" stroke-width="0.95" stroke-linejoin="round" stroke-linecap="round"/>
<line x1="299.80" y1="141.70" x2="299.80" y2="226.50" stroke="#333" stroke-width="0.7"/>
<line x1="299.50" y1="226.20" x2="405.60" y2="226.20" stroke="#333" stroke-width="0.7"/>
<line x1="298.30" y1="226.20" x2="299.80" y2="226.20" stroke="#333" stroke-width="0.55"/>
<text x="297.70" y="227.75" font-size="4.3" text-anchor="end" font-weight="normal" fill="#111">0</text>
<line x1="298.30" y1="198.13" x2="299.80" y2="198.13" stroke="#333" stroke-width="0.55"/>
<text x="297.70" y="199.68" font-size="4.3" text-anchor="end" font-weight="normal" fill="#111">5</text>
<line x1="298.30" y1="170.07" x2="299.80" y2="170.07" stroke="#333" stroke-width="0.55"/>
<text x="297.70" y="171.62" font-size="4.3" text-anchor="end" font-weight="normal" fill="#111">10</text>
<line x1="298.30" y1="142.00" x2="299.80" y2="142.00" stroke="#333" stroke-width="0.55"/>
<text x="297.70" y="143.55" font-size="4.3" text-anchor="end" font-weight="normal" fill="#111">15</text>
<line x1="299.80" y1="226.20" x2="299.80" y2="227.50" stroke="#333" stroke-width="0.55"/>
<text x="299.80" y="231.80" font-size="4.3" text-anchor="middle" font-weight="normal" fill="#111">0</text>
<line x1="312.99" y1="226.20" x2="312.99" y2="227.50" stroke="#333" stroke-width="0.55"/>
<text x="312.99" y="231.80" font-size="4.3" text-anchor="middle" font-weight="normal" fill="#111">10</text>
<line x1="326.18" y1="226.20" x2="326.18" y2="227.50" stroke="#333" stroke-width="0.55"/>
<text x="326.18" y="231.80" font-size="4.3" text-anchor="middle" font-weight="normal" fill="#111">20</text>
<line x1="339.36" y1="226.20" x2="339.36" y2="227.50" stroke="#333" stroke-width="0.55"/>
<text x="339.36" y="231.80" font-size="4.3" text-anchor="middle" font-weight="normal" fill="#111">30</text>
<line x1="352.55" y1="226.20" x2="352.55" y2="227.50" stroke="#333" stroke-width="0.55"/>
<text x="352.55" y="231.80" font-size="4.3" text-anchor="middle" font-weight="normal" fill="#111">40</text>
<line x1="365.74" y1="226.20" x2="365.74" y2="227.50" stroke="#333" stroke-width="0.55"/>
<text x="365.74" y="231.80" font-size="4.3" text-anchor="middle" font-weight="normal" fill="#111">50</text>
<line x1="378.93" y1="226.20" x2="378.93" y2="227.50" stroke="#333" stroke-width="0.55"/>
<text x="378.93" y="231.80" font-size="4.3" text-anchor="middle" font-weight="normal" fill="#111">60</text>
<line x1="392.11" y1="226.20" x2="392.11" y2="227.50" stroke="#333" stroke-width="0.55"/>
<text x="392.11" y="231.80" font-size="4.3" text-anchor="middle" font-weight="normal" fill="#111">70</text>
<line x1="405.30" y1="226.20" x2="405.30" y2="227.50" stroke="#333" stroke-width="0.55"/>
<text x="405.30" y="231.80" font-size="4.3" text-anchor="middle" font-weight="normal" fill="#111">80</text>
<text x="353.55" y="237.30" font-size="4.4" text-anchor="middle" font-weight="normal" fill="#111">Rupture forces,pN</text>
<text x="291.50" y="185.10" font-size="4.4" text-anchor="middle" font-weight="normal" fill="#111" transform="rotate(-90 291.50 185.10)">Probability,%</text>
<text x="324.60" y="136.60" font-size="4.55" text-anchor="middle" font-weight="normal" fill="#111" word-spacing="-0.5">16 ± 2 pN</text>
<line x1="321.60" y1="137.80" x2="321.60" y2="146.50" stroke="#2a2a2a" stroke-width="0.5"/>
<polygon points="321.60,149.00 320.40,146.50 322.80,146.50" fill="#2a2a2a"/>
<text x="341.20" y="177.60" font-size="4.55" text-anchor="middle" font-weight="normal" fill="#111" word-spacing="-0.5">26 ± 13 pN</text>
<line x1="335.60" y1="178.80" x2="335.60" y2="187.90" stroke="#2a2a2a" stroke-width="0.5"/>
<polygon points="335.60,190.40 334.40,187.90 336.80,187.90" fill="#2a2a2a"/>
<text x="368.50" y="203.00" font-size="4.55" text-anchor="middle" font-weight="normal" fill="#111" word-spacing="-0.5">49 ± 23 pN</text>
<line x1="364.60" y1="204.20" x2="364.60" y2="212.10" stroke="#2a2a2a" stroke-width="0.5"/>
<polygon points="364.60,214.60 363.40,212.10 365.80,212.10" fill="#2a2a2a"/>
<text x="337.00" y="152.80" font-size="4.55" text-anchor="start" font-weight="normal" fill="#111">desB-fibrin +</text>
<text x="337.00" y="158.50" font-size="4.55" text-anchor="start" font-weight="normal" fill="#111">(fragment D-γD364H+</text>
<text x="337.00" y="164.20" font-size="4.55" text-anchor="start" font-weight="normal" fill="#111">10 mM GPRPam)</text>
<text x="1.30" y="137.00" font-size="11.6" text-anchor="start" font-weight="bold" fill="#0a0a0a" style="stroke-width:0.4px">E</text>
<line x1="17.20" y1="144.70" x2="17.20" y2="226.40" stroke="#808080" stroke-width="1.0"/>
<line x1="16.80" y1="226.00" x2="138.32" y2="226.00" stroke="#8a8a8a" stroke-width="1.0"/>
<line x1="16.20" y1="226.00" x2="17.20" y2="226.00" stroke="#888" stroke-width="0.5"/>
<text x="15.70" y="227.90" font-size="4.4" text-anchor="end" font-weight="normal" fill="#111">0</text>
<line x1="16.20" y1="209.80" x2="17.20" y2="209.80" stroke="#888" stroke-width="0.5"/>
<text x="15.70" y="211.70" font-size="4.4" text-anchor="end" font-weight="normal" fill="#111">20</text>
<line x1="16.20" y1="193.60" x2="17.20" y2="193.60" stroke="#888" stroke-width="0.5"/>
<text x="15.70" y="195.50" font-size="4.4" text-anchor="end" font-weight="normal" fill="#111">40</text>
<line x1="16.20" y1="177.40" x2="17.20" y2="177.40" stroke="#888" stroke-width="0.5"/>
<text x="15.70" y="179.30" font-size="4.4" text-anchor="end" font-weight="normal" fill="#111">60</text>
<line x1="16.20" y1="161.20" x2="17.20" y2="161.20" stroke="#888" stroke-width="0.5"/>
<text x="15.70" y="163.10" font-size="4.4" text-anchor="end" font-weight="normal" fill="#111">80</text>
<line x1="16.20" y1="145.00" x2="17.20" y2="145.00" stroke="#888" stroke-width="0.5"/>
<text x="15.70" y="146.90" font-size="4.4" text-anchor="end" font-weight="normal" fill="#111">100</text>
<text x="17.20" y="232.10" font-size="4.4" text-anchor="middle" font-weight="normal" fill="#111">-2</text>
<text x="34.46" y="232.10" font-size="4.4" text-anchor="middle" font-weight="normal" fill="#111">0</text>
<text x="51.72" y="232.10" font-size="4.4" text-anchor="middle" font-weight="normal" fill="#111">2</text>
<text x="68.98" y="232.10" font-size="4.4" text-anchor="middle" font-weight="normal" fill="#111">4</text>
<text x="86.24" y="232.10" font-size="4.4" text-anchor="middle" font-weight="normal" fill="#111">6</text>
<text x="103.50" y="232.10" font-size="4.4" text-anchor="middle" font-weight="normal" fill="#111">8</text>
<text x="120.76" y="232.10" font-size="4.4" text-anchor="middle" font-weight="normal" fill="#111">10</text>
<text x="138.02" y="232.10" font-size="4.4" text-anchor="middle" font-weight="normal" fill="#111">12</text>
<text x="78.00" y="237.30" font-size="4.7" text-anchor="middle" font-weight="normal" fill="#111">[GHRPam], mM</text>
<text x="5.60" y="185.30" font-size="4.6" text-anchor="middle" font-weight="normal" fill="#111" transform="rotate(-90 5.60 185.30)">Normalized peak areas, %</text>
<line x1="34.50" y1="145.00" x2="137.80" y2="225.70" stroke="#0a0a0a" stroke-width="1.0" stroke-linecap="round"/>
<line x1="34.50" y1="146.30" x2="104.70" y2="226.00" stroke="#0a0a0a" stroke-width="1.0" stroke-linecap="round"/>
<line x1="34.50" y1="147.20" x2="84.30" y2="226.00" stroke="#0a0a0a" stroke-width="1.0" stroke-linecap="round"/>
<circle cx="34.50" cy="145.20" r="1.15" fill="#0a0a0a"/>
<circle cx="51.72" cy="157.47" r="0.95" fill="#0a0a0a"/>
<circle cx="77.61" cy="178.37" r="0.95" fill="#0a0a0a"/>
<circle cx="51.72" cy="169.46" r="0.95" fill="#0a0a0a"/>
<circle cx="77.61" cy="193.60" r="0.95" fill="#0a0a0a"/>
<circle cx="51.72" cy="179.43" r="0.95" fill="#0a0a0a"/>
<circle cx="77.61" cy="214.17" r="0.95" fill="#0a0a0a"/>
<text x="55.40" y="155.00" font-size="4.62" text-anchor="start" font-weight="normal" fill="#111">Weak forces peaking at 15-20 pN</text>
<line x1="83.00" y1="156.40" x2="72.77" y2="169.06" stroke="#2a2a2a" stroke-width="0.5"/>
<polygon points="71.20,171.00 71.84,168.30 73.70,169.81" fill="#2a2a2a"/>
<text x="94.10" y="181.50" font-size="4.62" text-anchor="start" font-weight="normal" fill="#111">Intermediate forces</text>
<text x="94.10" y="187.50" font-size="4.62" text-anchor="start" font-weight="normal" fill="#111">peaking at 30-40 pN</text>
<line x1="111.00" y1="188.50" x2="95.06" y2="208.54" stroke="#2a2a2a" stroke-width="0.5"/>
<polygon points="93.50,210.50 94.12,207.80 96.00,209.29" fill="#2a2a2a"/>
<text x="20.00" y="204.60" font-size="4.62" text-anchor="start" font-weight="normal" fill="#111">Strong forces peaking</text>
<text x="20.00" y="210.20" font-size="4.62" text-anchor="start" font-weight="normal" fill="#111">at 50-60 pN</text>
<line x1="41.00" y1="199.50" x2="54.09" y2="185.62" stroke="#2a2a2a" stroke-width="0.5"/>
<polygon points="55.80,183.80 54.96,186.44 53.21,184.80" fill="#2a2a2a"/>
</g>
</svg>
</body></html>
